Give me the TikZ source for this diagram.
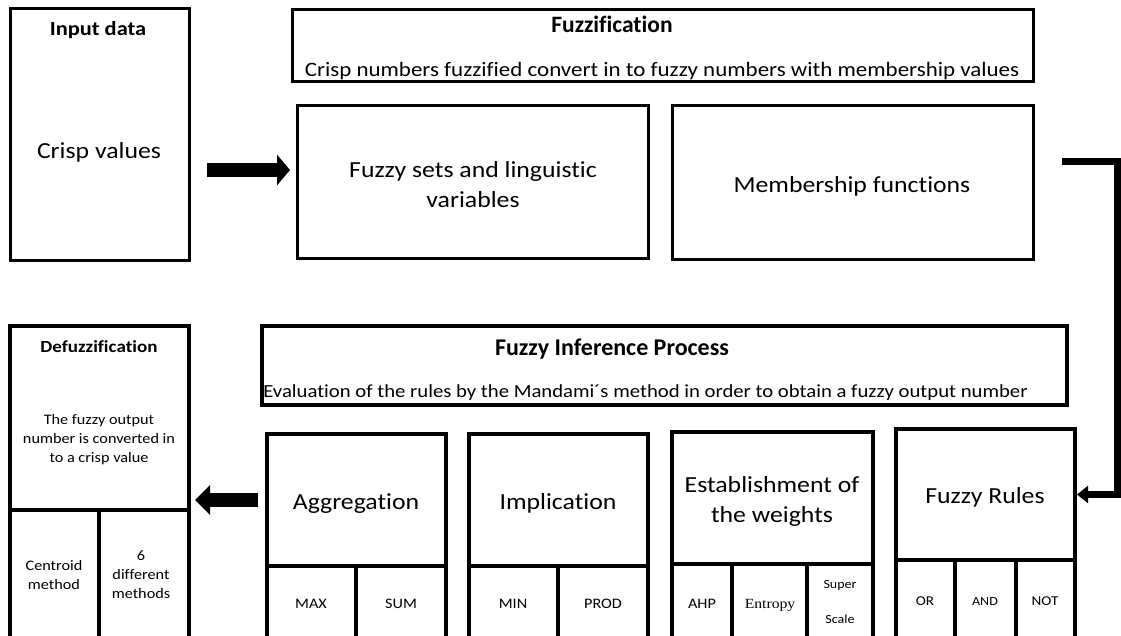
\documentclass[tikz,border=0pt]{standalone}
\usepackage{fontspec}
\setmainfont{Carlito}[FakeStretch=1.12,Ligatures=NoCommon]
\newfontfamily\titlefont{Carlito}[Ligatures=NoCommon]
\newfontfamily\serifx{Liberation Serif}[FakeStretch=1.12]
\usetikzlibrary{arrows.meta}
\newcommand\fsz[1]{\fontsize{#1}{#1}\selectfont}
\begin{document}
\begin{tikzpicture}[x=1pt,y=-1pt,
  box/.style={draw, line width=3pt, inner sep=0pt, outer sep=0pt, anchor=north west},
  bbox/.style={box, line width=3.8pt},
  tx/.style={inner sep=0pt, outer sep=0pt, anchor=base, text=black},
  big/.style={tx, font=\fsz{23}},
  small/.style={tx, font=\fsz{14.5}},
  fat/.style={draw, line join=miter}
]
\useasboundingbox (0,0) rectangle (1121,635);
\fill[white] (0,0) rectangle (1121,635);
\clip (0,0) rectangle (1121,635);

% top row
\node[box, minimum width=179pt, minimum height=252pt] (inp) at (10,8) {};
\node[box, minimum width=741pt, minimum height=72pt] (fuzz) at (292,9) {};
\node[box, minimum width=351pt, minimum height=153pt] (fset) at (297,105) {};
\node[box, minimum width=361pt, minimum height=154pt] (memb) at (672,105) {};

\node[tx, font=\fsz{20}\bfseries] (t1) at (98,35) {Input data};
\node[big] (t2) at (99,158) {Crisp values};
\node[tx, font=\titlefont\fsz{23.5}\bfseries] (t3) at (612,32) {Fuzzification};
\node[tx, font=\fsz{20.5}] (t4) at (662,76) {Crisp numbers fuzzified convert in to fuzzy numbers with membership values};
\node[big] (t5) at (473,177) {Fuzzy sets and linguistic};
\node[big] (t6) at (473,207) {variables};
\node[big] (t7) at (852,192) {Membership functions};

% inference header
\node[box, line width=3.5pt, minimum width=805pt, minimum height=79pt] (fip) at (262,326) {};
\node[tx, font=\titlefont\fsz{24}\bfseries] (t8) at (612,355) {Fuzzy Inference Process};
\node[tx, font=\fsz{18.5}] (t9) at (645.5,397) {Evaluation of the rules by the Mandami´s method in order to obtain a fuzzy output number};

% defuzzification
\node[box, line width=3.5pt, minimum width=179pt, minimum height=184pt] (defuz) at (10,326) {};
\node[box, line width=3.5pt, minimum width=89pt, minimum height=140pt] (dc1) at (10,510) {};
\node[box, line width=3.5pt, minimum width=90pt, minimum height=140pt] (dc2) at (99,510) {};
\node[tx, font=\fsz{17}\bfseries] (t10) at (99,352) {Defuzzification};
\node[small] (t11) at (99,424) {The fuzzy output};
\node[small] (t12) at (99,443) {number is converted in};
\node[small] (t13) at (99,462) {to a crisp value};
\node[small] (t14) at (54,570) {Centroid};
\node[small] (t15) at (54,589) {method};
\node[small] (t16) at (141,560) {6};
\node[small] (t17) at (141,579) {different};
\node[small] (t18) at (141,598) {methods};

% aggregation
\node[bbox, minimum width=179pt, minimum height=132pt] (agg) at (267,434) {};
\node[bbox, minimum width=89pt, minimum height=90pt] (ag1) at (267,566) {};
\node[bbox, minimum width=90pt, minimum height=90pt] (ag2) at (356,566) {};
\node[big] (t19) at (356,509) {Aggregation};
\node[small] (t20) at (311,608) {MAX};
\node[small] (t21) at (401,608) {SUM};

% implication
\node[bbox, minimum width=179pt, minimum height=132pt] (imp) at (469,434) {};
\node[bbox, minimum width=89pt, minimum height=90pt] (im1) at (469,566) {};
\node[bbox, minimum width=90pt, minimum height=90pt] (im2) at (558,566) {};
\node[big] (t22) at (558,509) {Implication};
\node[small] (t23) at (513,608) {MIN};
\node[small] (t24) at (603,608) {PROD};

% weights
\node[bbox, minimum width=201pt, minimum height=132pt] (est) at (672,432) {};
\node[bbox, minimum width=60pt, minimum height=90pt] (es1) at (672,564) {};
\node[bbox, minimum width=75pt, minimum height=90pt] (es2) at (732,564) {};
\node[bbox, minimum width=66pt, minimum height=90pt] (es3) at (807,564) {};
\node[big] (t25) at (772,492) {Establishment of};
\node[big] (t26) at (772,522) {the weights};
\node[small] (t27) at (702,608) {AHP};
\node[tx, font=\serifx\fsz{14}] (t28) at (770,608) {Entropy};
\node[tx, font=\fsz{12.5}] (t29) at (840,588) {Super};
\node[tx, font=\fsz{12.5}] (t30) at (840,623) {Scale};

% rules
\node[bbox, minimum width=179pt, minimum height=131pt] (rul) at (896,429) {};
\node[bbox, minimum width=59pt, minimum height=90pt] (ru1) at (896,560) {};
\node[bbox, minimum width=61pt, minimum height=90pt] (ru2) at (955,560) {};
\node[bbox, minimum width=59pt, minimum height=90pt] (ru3) at (1016,560) {};
\node[big] (t31) at (985,503) {Fuzzy Rules};
\node[tx, font=\fsz{13.5}] (t32) at (925,605) {OR};
\node[tx, font=\fsz{12.5}] (t33) at (985,605) {AND};
\node[tx, font=\fsz{13.5}] (t34) at (1045,605) {NOT};

% connectors
\coordinate (a1) at (0,170);
\draw[fat, line width=14pt, -{Triangle[length=13pt,width=30pt]}, shorten <=18pt, shorten >=7pt]
  (inp.east |- a1) -- (fset.west |- a1);
\draw[fat, line width=14pt, -{Triangle[length=15pt,width=29pt]}, shorten <=9pt, shorten >=6pt]
  (agg.west) -- (agg.west -| defuz.east);
\coordinate (c3) at (1117.5,161);
\draw[fat, line width=7pt, -{Triangle[length=11pt,width=17pt]}, shorten <=29pt, shorten >=2pt]
  (memb.east |- c3) -- (c3) |- (rul.east);
\end{tikzpicture}
\end{document}
